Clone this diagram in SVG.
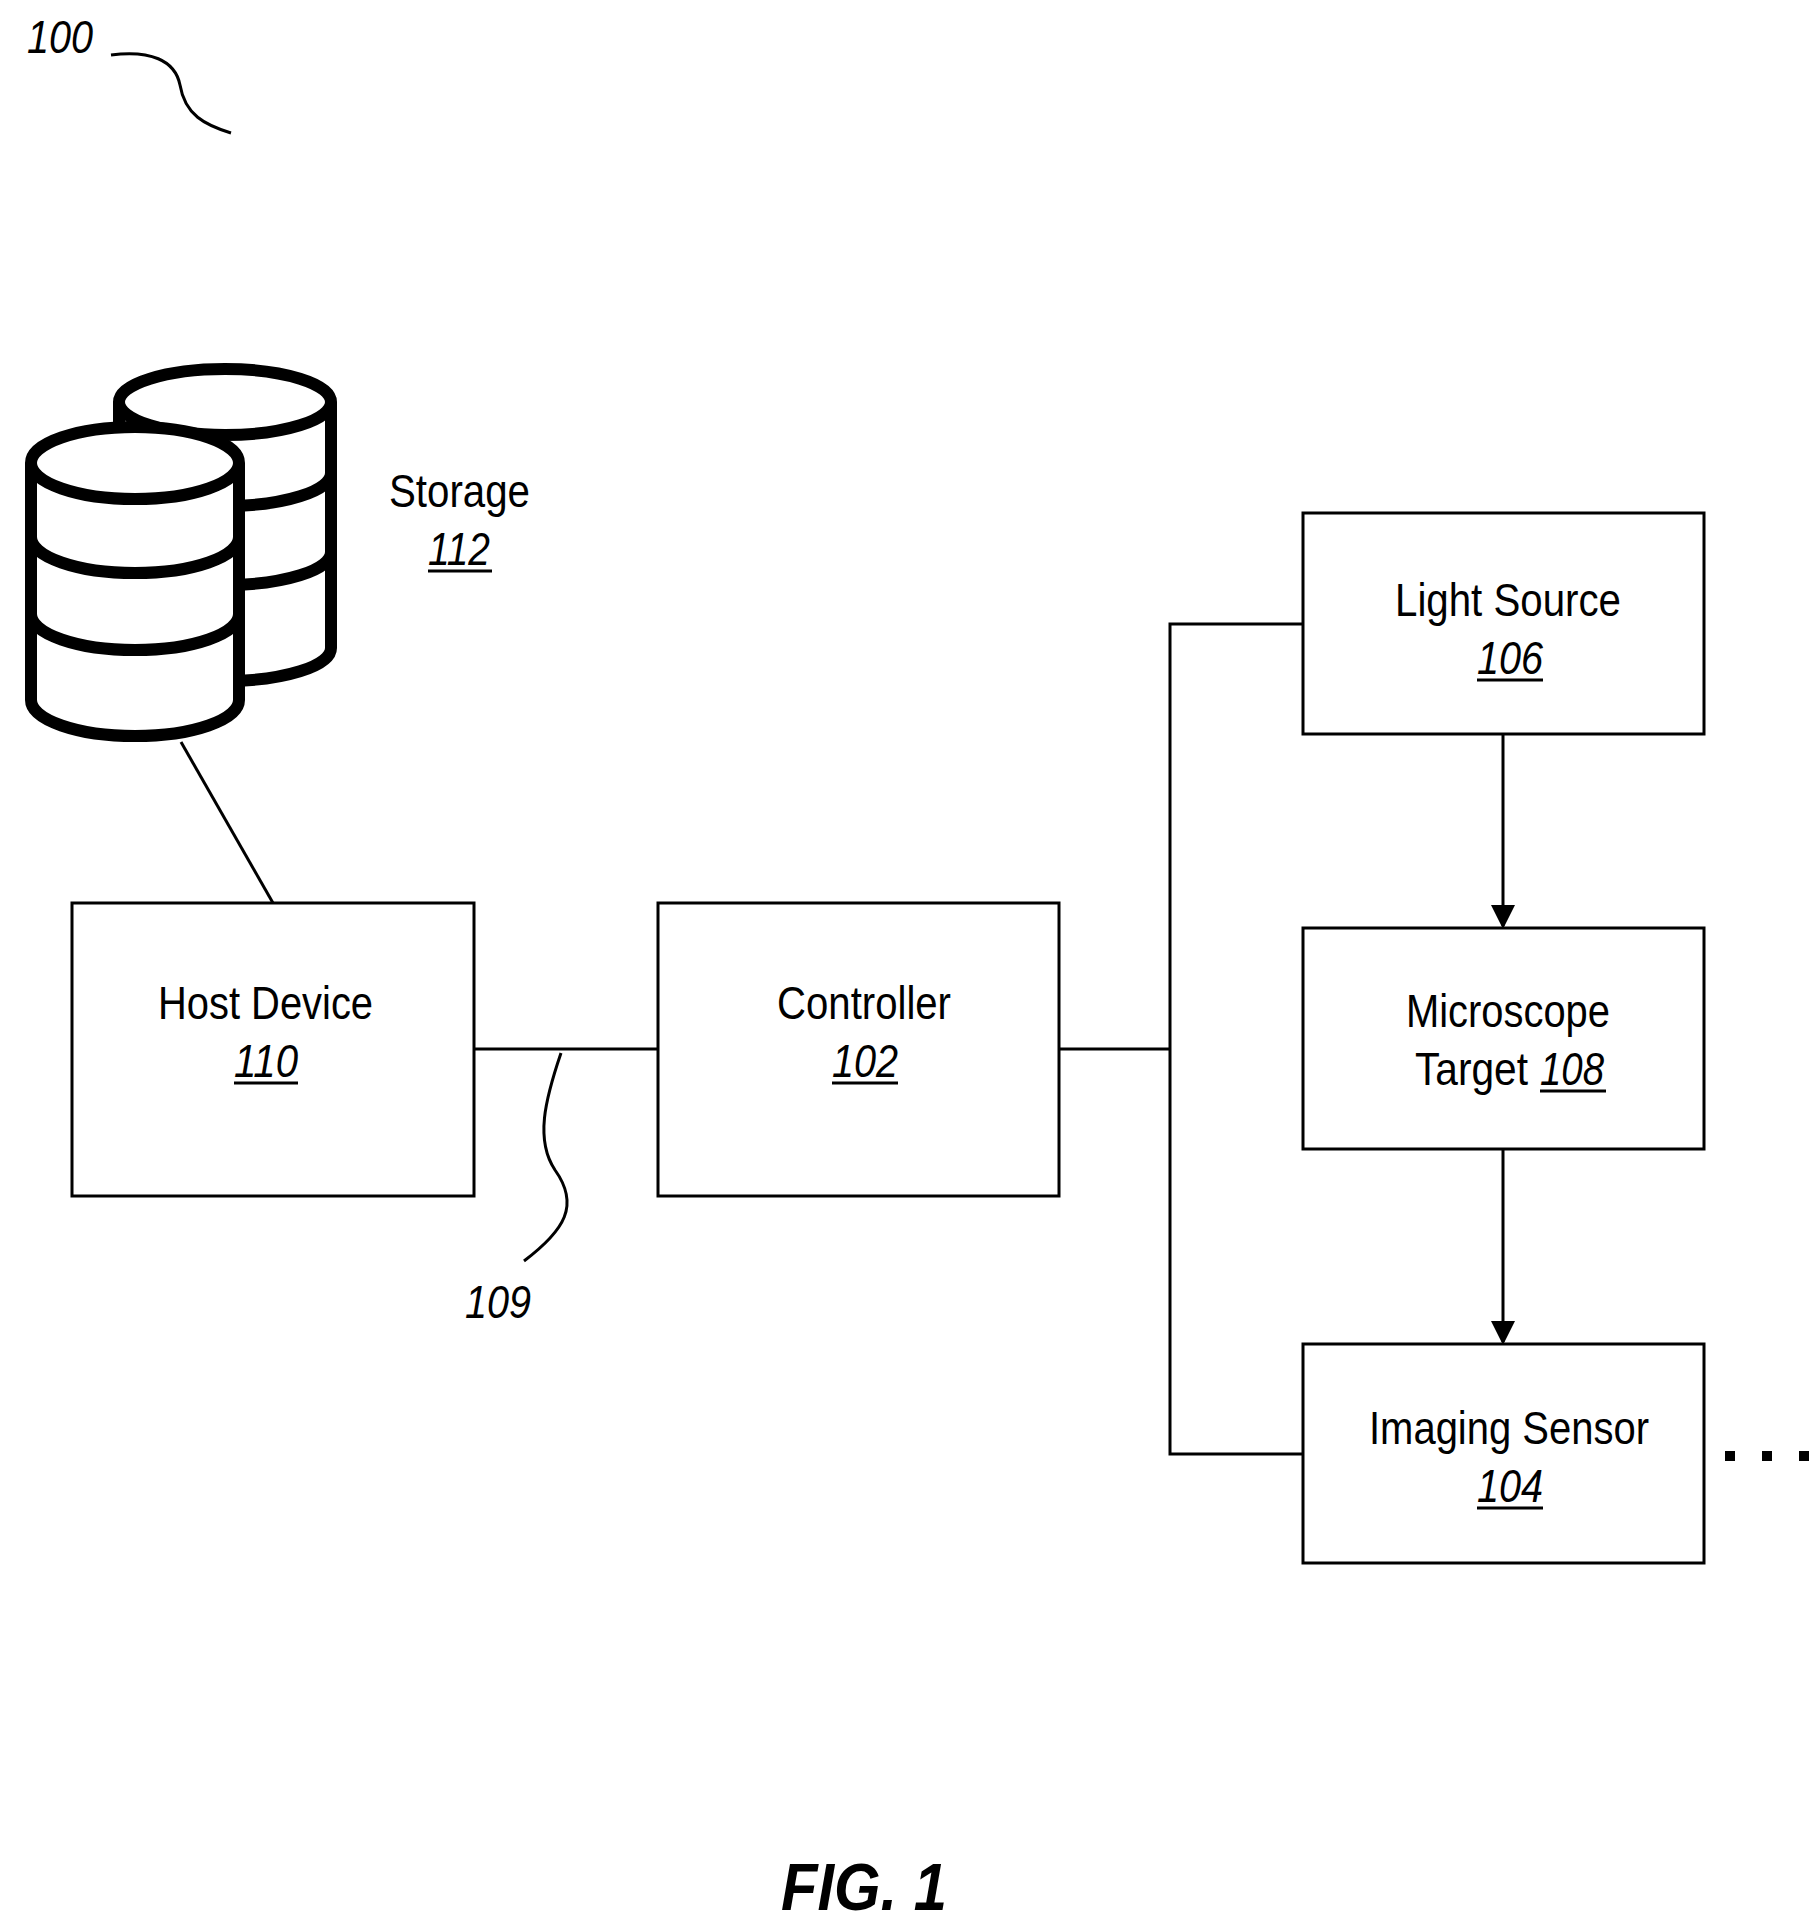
<svg xmlns="http://www.w3.org/2000/svg" width="1820" height="1927" viewBox="0 0 1820 1927">
<style>
.box{fill:#fff;stroke:#000;stroke-width:3}
.ln{fill:none;stroke:#000;stroke-width:3}
.t{font-family:"Liberation Sans",Arial,sans-serif;font-size:46px;fill:#000}
.n{font-family:"Liberation Sans",Arial,sans-serif;font-size:46px;font-style:italic;fill:#000}
.u{stroke:#000;stroke-width:3}
.cyl{fill:#fff;stroke:#000;stroke-width:12}
</style>
<defs><marker id="ah" markerWidth="8" markerHeight="8" refX="7" refY="4" orient="auto" markerUnits="strokeWidth"><path d="M0,0 L8,4 L0,8 z" fill="#000"/></marker></defs>
<g id="label100">
<text class="n" x="27" y="53" textLength="66" lengthAdjust="spacingAndGlyphs">100</text>
<path class="ln" d="M111,55 C150,50 175,60 180,85 C185,115 205,125 231,133"/>
</g>
<g id="storage">
<path class="cyl" d="M119,402 L119,648 A106,33 0 0 0 331,648 L331,402"/>
<ellipse class="cyl" cx="225" cy="402" rx="106" ry="33"/>
<path class="cyl" d="M119,473 A106,33 0 0 0 331,473 M119,552 A106,33 0 0 0 331,552" fill="none"/>
<path class="cyl" d="M31,463 L31,700 A104,36 0 0 0 239,700 L239,463"/>
<ellipse class="cyl" cx="135" cy="463" rx="104" ry="36"/>
<path class="cyl" d="M31,537 A104,36 0 0 0 239,537 M31,614 A104,36 0 0 0 239,614" fill="none"/>
<text class="t" x="389" y="507" textLength="141" lengthAdjust="spacingAndGlyphs">Storage</text>
<text class="n" x="428" y="565" textLength="62" lengthAdjust="spacingAndGlyphs">112</text>
<line class="u" x1="428" y1="571" x2="492" y2="571"/>
</g>
<g id="connectors">
<line class="ln" x1="181" y1="742" x2="273" y2="903"/>
<line class="ln" x1="474" y1="1049" x2="658" y2="1049"/>
<line class="ln" x1="1059" y1="1049" x2="1170" y2="1049"/>
<polyline class="ln" points="1303,624 1170,624 1170,1454 1303,1454"/>
<line class="ln" x1="1503" y1="734" x2="1503" y2="926" marker-end="url(#ah)"/>
<line class="ln" x1="1503" y1="1149" x2="1503" y2="1342" marker-end="url(#ah)"/>
<path class="ln" d="M561,1053 C545,1100 535,1140 555,1170 C580,1205 565,1230 524,1261"/>
<text class="n" x="465" y="1318" textLength="66" lengthAdjust="spacingAndGlyphs">109</text>
</g>
<g id="host">
<rect class="box" x="72" y="903" width="402" height="293"/>
<text class="t" x="158" y="1019" textLength="215" lengthAdjust="spacingAndGlyphs">Host Device</text>
<text class="n" x="234" y="1077" textLength="64" lengthAdjust="spacingAndGlyphs">110</text>
<line class="u" x1="234" y1="1083" x2="298" y2="1083"/>
</g>
<g id="controller">
<rect class="box" x="658" y="903" width="401" height="293"/>
<text class="t" x="777" y="1019" textLength="174" lengthAdjust="spacingAndGlyphs">Controller</text>
<text class="n" x="832" y="1077" textLength="66" lengthAdjust="spacingAndGlyphs">102</text>
<line class="u" x1="832" y1="1083" x2="898" y2="1083"/>
</g>
<g id="light">
<rect class="box" x="1303" y="513" width="401" height="221"/>
<text class="t" x="1395" y="616" textLength="226" lengthAdjust="spacingAndGlyphs">Light Source</text>
<text class="n" x="1477" y="674" textLength="66" lengthAdjust="spacingAndGlyphs">106</text>
<line class="u" x1="1477" y1="680" x2="1543" y2="680"/>
</g>
<g id="microscope">
<rect class="box" x="1303" y="928" width="401" height="221"/>
<text class="t" x="1406" y="1027" textLength="204" lengthAdjust="spacingAndGlyphs">Microscope</text>
<text class="t" x="1415" y="1085" textLength="113" lengthAdjust="spacingAndGlyphs">Target</text>
<text class="n" x="1540" y="1085" textLength="64" lengthAdjust="spacingAndGlyphs">108</text>
<line class="u" x1="1540" y1="1091" x2="1606" y2="1091"/>
</g>
<g id="imaging">
<rect class="box" x="1303" y="1344" width="401" height="219"/>
<text class="t" x="1369" y="1444" textLength="280" lengthAdjust="spacingAndGlyphs">Imaging Sensor</text>
<text class="n" x="1477" y="1502" textLength="66" lengthAdjust="spacingAndGlyphs">104</text>
<line class="u" x1="1477" y1="1508" x2="1543" y2="1508"/>
</g>
<g id="dots">
<rect x="1725" y="1451" width="10" height="10"/>
<rect x="1762" y="1451" width="10" height="10"/>
<rect x="1799" y="1451" width="10" height="10"/>
</g>
<text x="864" y="1910" text-anchor="middle" font-family="'Liberation Sans',Arial,sans-serif" font-size="66" font-weight="bold" font-style="italic" textLength="166" lengthAdjust="spacingAndGlyphs">FIG. 1</text>
</svg>
